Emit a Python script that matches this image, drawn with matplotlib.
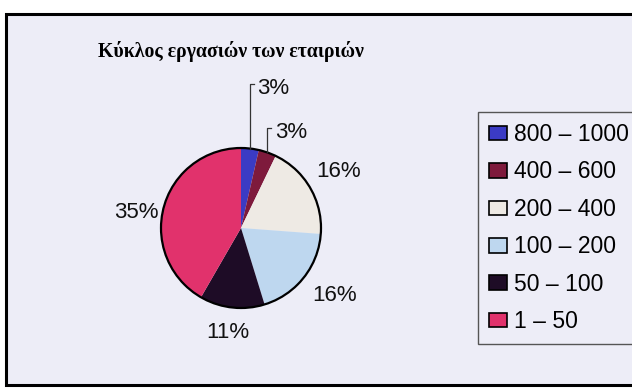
import matplotlib.pyplot as plt
import numpy as np
from matplotlib.patches import Rectangle, Circle

# turnover classes and the share of companies in each (%)
classes = ['800 – 1000', '400 – 600', '200 – 400', '100 – 200', '50 – 100', '1 – 50']
shares = [3, 3, 16, 16, 11, 35]
colors = ['#3b3bc4', '#7e1a3c', '#eeeae4', '#bed7ef', '#1e0c26', '#e1326c']

W, H = 632, 391
bg = '#ededf7'

fig = plt.figure(figsize=(W / 100, H / 100), dpi=100, facecolor='white')

# chart area with black frame (right side runs off the page)
fig.patches.append(Rectangle((6 / W, 1 - 385 / H), (W + 20) / W, (385 - 14) / H,
                             transform=fig.transFigure, facecolor=bg,
                             edgecolor='black', lw=2.2, zorder=-5))

fig.text(231 / W, 1 - 52 / H, 'Κύκλος εργασιών των εταιριών',
         family='Liberation Serif', weight='bold', fontsize=14.2,
         ha='center', va='center')

# pie: centre (241, 228) px, radius 80 px
cx, cy, r = 241, 228, 80
ax = fig.add_axes([(cx - r) / W, 1 - (cy + r) / H, 2 * r / W, 2 * r / H])
ax.set_facecolor('none')
wedges, _ = ax.pie(shares, colors=colors, startangle=90, counterclock=False,
                   radius=1, wedgeprops=dict(linewidth=0))
for w in wedges:
    w.set_clip_on(False)
ax.add_patch(Circle((0, 0), 1, fill=False, edgecolor='black', lw=1.6,
                    clip_on=False))
ax.set_xlim(-1, 1)
ax.set_ylim(-1, 1)
ax.set_aspect('equal')
ax.axis('off')

lab_font = dict(family='Liberation Sans', fontsize=16, color='#111111')
label_dist = [None, None, 1.41, 1.44, 1.32, 1.32]
label_turn = [0, 0, 0, 3, -0.7, 6.7]   # degrees off the slice's mid-angle
leader_top = [1.80, 1.25]

for i, w in enumerate(wedges):
    mid = np.deg2rad((w.theta1 + w.theta2) / 2)
    txt = f'{shares[i]}%'
    if label_dist[i] is None:
        # small slices: label raised above the pie with a leader line
        xe, ye = np.cos(mid), np.sin(mid)
        yt = leader_top[i]
        ax.plot([xe, xe, xe + 0.05], [ye, yt, yt], color='#333333', lw=0.9,
                clip_on=False)
        ax.text(xe + 0.09, yt - 0.05, txt, ha='left', va='center',
                clip_on=False, **lab_font)
    else:
        d = label_dist[i]
        a = mid + np.deg2rad(label_turn[i])
        ax.text(d * np.cos(a), d * np.sin(a), txt, ha='center',
                va='center', clip_on=False, **lab_font)

leg = fig.legend(wedges, classes, loc='upper left',
                 bbox_to_anchor=(478 / W, 1 - 112 / H), borderaxespad=0,
                 prop=dict(family='Liberation Sans', size=16.5),
                 handlelength=0.8, handleheight=0.6, handletextpad=0.3,
                 labelspacing=0.63, borderpad=0.48, fancybox=False,
                 framealpha=1, facecolor=bg, edgecolor='#555555')
leg.get_frame().set_linewidth(1.0)
for p in leg.get_patches():
    p.set_edgecolor('black')
    p.set_linewidth(1.2)

fig.savefig('out.png', dpi=100, facecolor='white')
